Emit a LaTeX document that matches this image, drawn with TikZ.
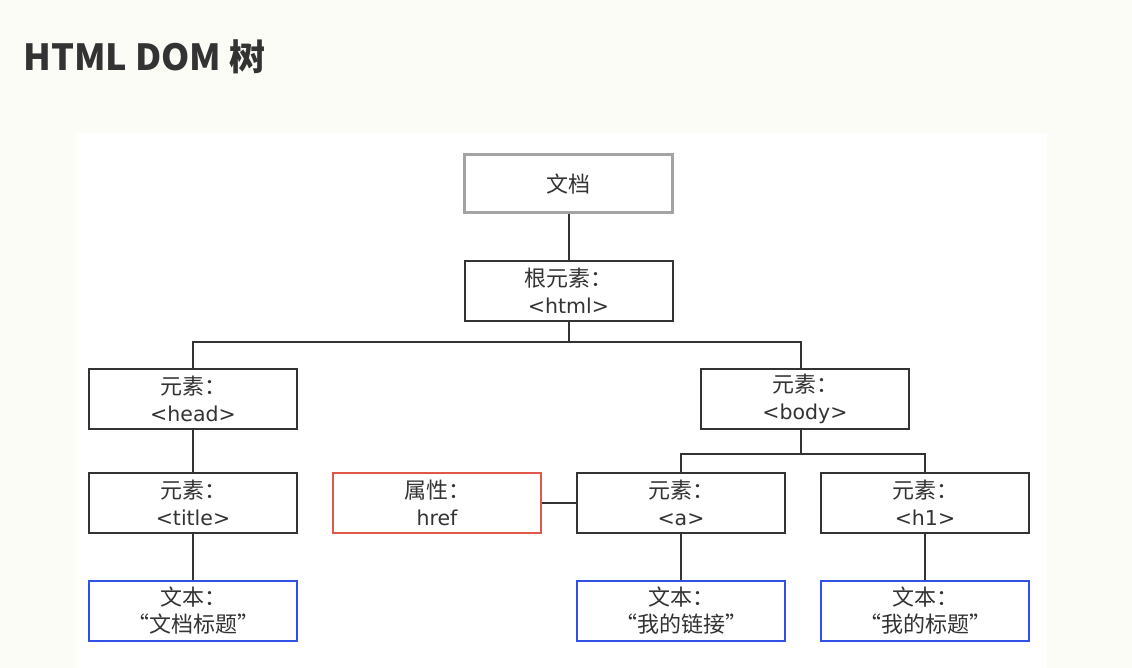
\documentclass[tikz,border=0pt]{standalone}
\usepackage{fontspec}
\setmainfont{DejaVu Sans}
\newfontfamily\cjk{Noto Sans CJK SC}
\definecolor{cream}{HTML}{FCFCF7}
\definecolor{ink}{HTML}{333333}
\definecolor{docgray}{HTML}{A3A3A3}
\definecolor{attrred}{HTML}{E0584A}
\definecolor{textblue}{HTML}{3350E6}
\newcommand{\zh}[1]{{\cjk\fontsize{22}{27}\selectfont #1}}
\begin{document}
\begin{tikzpicture}[x=1pt,y=-1pt,
  box/.style={draw=ink, line width=2pt, fill=white, rectangle, minimum width=208pt, minimum height=60pt,
    inner sep=0pt, align=center, font=\fontsize{20.5}{27}\selectfont, text=ink},
  docbox/.style={box, draw=docgray, line width=3pt, minimum height=58pt},
  attrbox/.style={box, draw=attrred},
  txtbox/.style={box, draw=textblue},
  link/.style={draw=ink, line width=2pt}]
\fill[cream] (0,0) rectangle (1132,668);
\fill[white] (77,133) rectangle (1047,668);
\node[anchor=base west, font=\cjk\fontsize{36}{40}\selectfont\bfseries, text=ink, inner sep=0pt] (ttl) at (23,71) {HTML\ DOM\ 树};
\node[docbox] (doc) at (568.5,184) {\zh{文档}};
\node[box] (html) at (568.5,291) {\zh{根元素：}\\<html>};
\node[box] (head) at (193,398.5) {\zh{元素：}\\<head>};
\node[box] (body) at (805,398.5) {\zh{元素：}\\<body>};
\node[box] (title) at (193,502.5) {\zh{元素：}\\<title>};
\node[attrbox] (href) at (437,502.5) {\zh{属性：}\\href};
\node[box] (a) at (681,502.5) {\zh{元素：}\\<a>};
\node[box] (h1) at (925,502.5) {\zh{元素：}\\<h1>};
\node[txtbox] (t1) at (193,610.5) {\zh{文本：}\\\zh{“文档标题”}};
\node[txtbox] (t2) at (681,610.5) {\zh{文本：}\\\zh{“我的链接”}};
\node[txtbox] (t3) at (925,610.5) {\zh{文本：}\\\zh{“我的标题”}};
\coordinate (j1) at (568.5,342);
\coordinate (j2) at (801,454);
\draw[link] (doc) -- (html);
\draw[link] (html) -- (j1);
\draw[link] (head.north) |- (j1) -| (body.north -| j2);
\draw[link] (body.south -| j2) -- (j2);
\draw[link] (a.north) |- (j2) -| (h1.north);
\draw[link] (head) -- (title);
\draw[link] (title) -- (t1);
\draw[link] (href) -- (a);
\draw[link] (a) -- (t2);
\draw[link] (h1) -- (t3);
\end{tikzpicture}
\end{document}
